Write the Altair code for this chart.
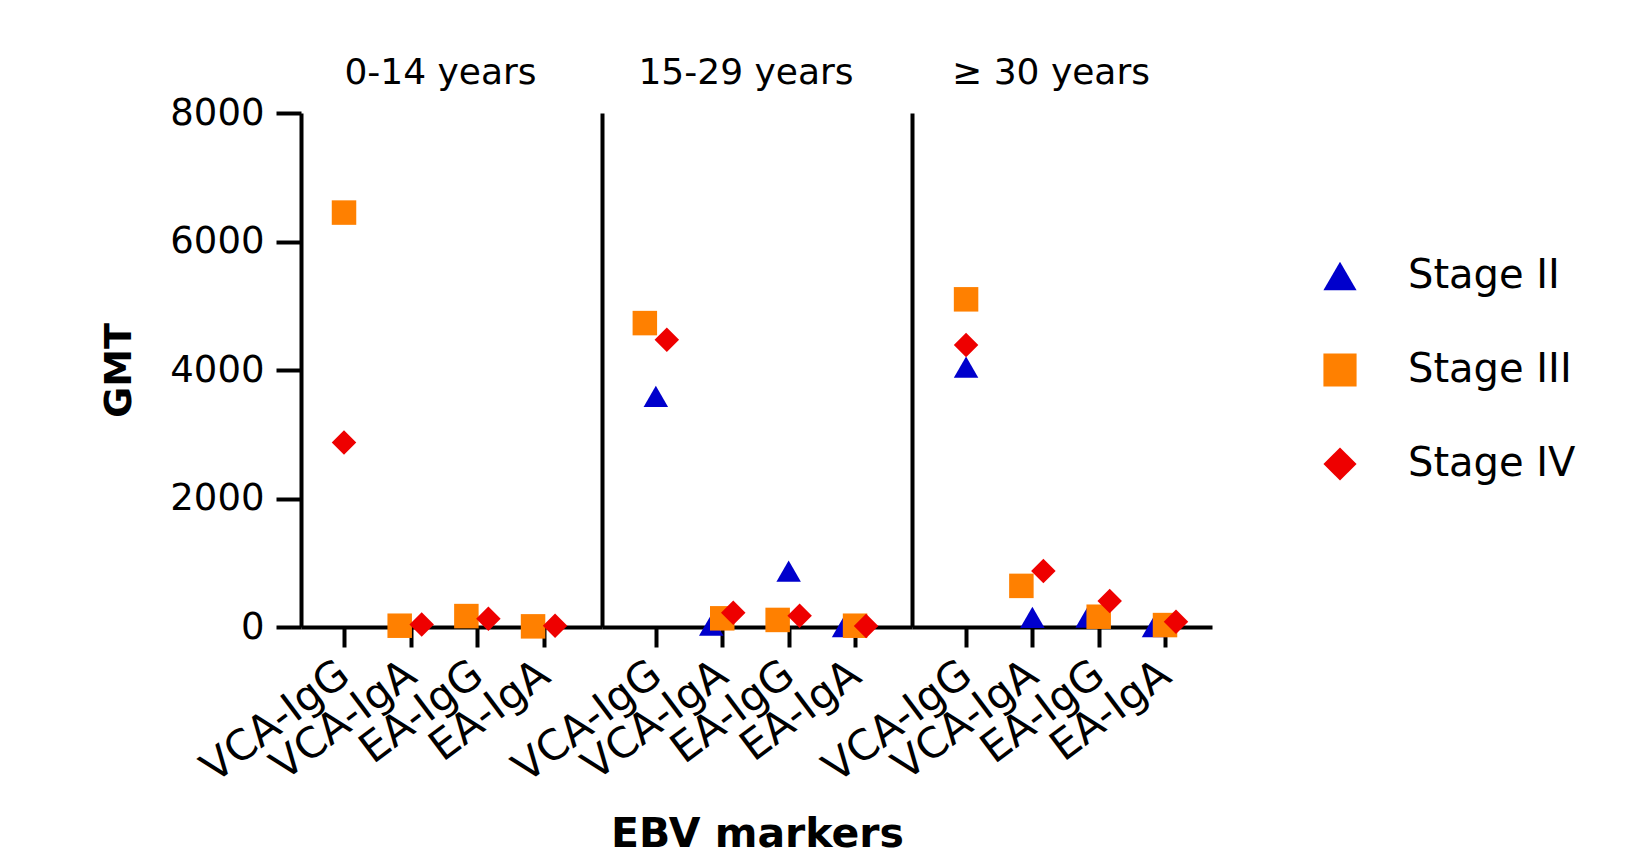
import altair as alt
import pandas as pd

# ---------------- data ----------------
age_groups = ["0-14 years", "15-29 years", "≥ 30 years"]
markers = ["VCA-IgG", "VCA-IgA", "EA-IgG", "EA-IgA"]
stages = ["Stage II", "Stage III", "Stage IV"]

# GMT per age group (rows) and EBV marker (columns); None = no data
gmt_stage2 = [
    [None, None, None, None],
    [3590, 30, 870, 5],
    [4045, 150, 155, 5],
]
gmt_stage3 = [
    [6450, 20, 170, 10],
    [4730, 135, 110, 20],
    [5100, 640, 160, 30],
]
gmt_stage4 = [
    [2870, 40, 130, 20],
    [4470, 222, 176, 15],
    [4390, 870, 405, 80],
]

stage_colors = ["#0000CC", "#FF8000", "#EE0000"]
stage_shapes = ["triangle-up", "square", "diamond"]

# ---------------- spread overlapping points (Prism-like) ----------------
OVERLAP = 300  # GMT units closer than this overlap visually
rows = []
series = [gmt_stage2, gmt_stage3, gmt_stage4]
for gi, g in enumerate(age_groups):
    for mi, m in enumerate(markers):
        pts = [(s, vals[gi][mi]) for s, vals in zip(stages, series)
               if vals[gi][mi] is not None]
        pts.sort(key=lambda p: p[1])
        clusters = []
        for p in pts:
            if clusters and p[1] - clusters[-1][-1][1] < OVERLAP:
                clusters[-1].append(p)
            else:
                clusters.append([p])
        for c in clusters:
            c.sort(key=lambda p: stages.index(p[0]))
            slots = {1: [0], 2: [-1, 1], 3: [-1, 0, 1]}[len(c)]
            for (s, v), sl in zip(c, slots):
                rows.append(dict(age=g, marker=m, stage=s, gmt=v, slot=sl))
df = pd.DataFrame(rows)

FONT = "DejaVu Sans"
legend = alt.Legend(
    title=None, orient="none", legendX=1019, legendY=143,
    symbolSize=1100, symbolStrokeWidth=0, labelFontSize=40, labelFont=FONT,
    labelColor="black", labelOffset=48, rowPadding=54, labelLimit=400,
)

panel_specs = [
    # width, point padding, align, title offset
    (301, 0.757, 0.426, -26),
    (310, 0.834, 0.486, -7),
    (300, 0.762, 0.535, -7),
]


def panel(i):
    g = age_groups[i]
    w, pad, align, toff = panel_specs[i]
    if i == 0:
        yaxis = alt.Axis(
            values=[0, 2000, 4000, 6000, 8000], format="d", title="GMT",
            grid=False,
            labelFontSize=37, labelFont=FONT, labelColor="black",
            titleFontSize=38, titleFont=FONT, titleFontWeight="bold",
            titleColor="black", titlePadding=31, labelPadding=12,
            tickSize=25, tickWidth=4, tickColor="black",
            domainWidth=4, domainColor="black",
        )
    else:
        yaxis = alt.Axis(labels=False, ticks=False, title=None, grid=False,
                         domainWidth=4, domainColor="black")
    xaxis = alt.Axis(
        title="EBV markers" if i == 1 else None,
        labelAngle=-37, labelAlign="right", labelBaseline="middle",
        labelFontSize=42, labelFont=FONT, labelColor="black",
        labelPadding=22,
        titleFontSize=41, titleFont=FONT, titleFontWeight="bold",
        titleColor="black", titlePadding=25,
        tickSize=20, tickWidth=4, tickColor="black",
        domainWidth=4, domainColor="black", grid=False,
    )
    return alt.Chart(df[df.age == g]).mark_point(
        filled=True, size=600, opacity=1
    ).encode(
        x=alt.X("marker:N", sort=markers, axis=xaxis,
                scale=alt.Scale(type="point", domain=markers,
                                padding=pad, align=align)),
        xOffset=alt.XOffset("slot:Q",
                            scale=alt.Scale(domain=[-1, 1], range=[-11, 11])),
        y=alt.Y("gmt:Q", axis=yaxis,
                scale=alt.Scale(domain=[0, 8000], nice=False, zero=True)),
        color=alt.Color("stage:N", legend=legend,
                        scale=alt.Scale(domain=stages, range=stage_colors)),
        shape=alt.Shape("stage:N", legend=legend,
                        scale=alt.Scale(domain=stages, range=stage_shapes)),
    ).properties(
        width=w, height=514,
        title=alt.TitleParams(g, fontSize=36, font=FONT, fontWeight="normal",
                              color="black", anchor="middle", dx=-11,
                              frame="group", baseline="alphabetic",
                              offset=toff),
    )


chart = alt.hconcat(panel(0), panel(1), panel(2), spacing=0, bounds="flush")
chart = chart.resolve_scale(color="shared", shape="shared").properties(
    padding={"left": 92, "top": 47, "right": 5, "bottom": 5}
).configure(background="white").configure_view(stroke=None, strokeWidth=0)

chart.save("out.html", embed_options={"renderer": "svg", "actions": False})
